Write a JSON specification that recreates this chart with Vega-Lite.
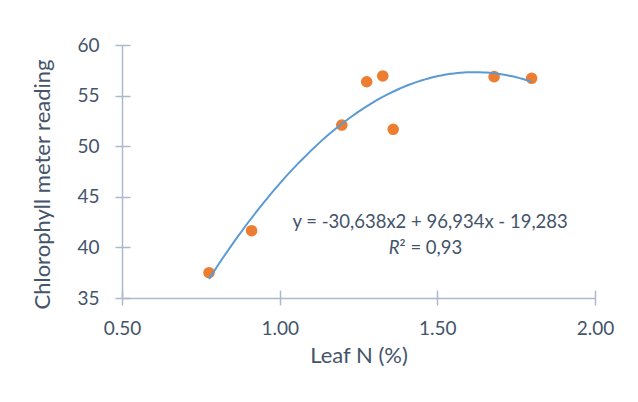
{
  "$schema": "https://vega.github.io/schema/vega-lite/v6.json",
  "width": 473,
  "height": 253,
  "autosize": {"type": "none"},
  "padding": {"left": 122, "top": 45, "right": 43, "bottom": 104},
  "background": "white",
  "config": {
    "view": {"stroke": null},
    "font": "Lato",
    "axis": {
      "grid": false,
      "labelFlush": false,
      "domainColor": "#ADB9CA",
      "tickColor": "#ADB9CA",
      "domainWidth": 1.5,
      "tickWidth": 1.5,
      "labelColor": "#44546A",
      "titleColor": "#44546A",
      "labelFont": "Lato",
      "titleFont": "Lato",
      "labelFontSize": 19,
      "titleFontSize": 22,
      "titleFontWeight": "normal"
    },
    "text": {"font": "Lato", "fontSize": 18.5, "color": "#44546A"}
  },
  "datasets": {
    "points": [
      {"leafN": 0.776, "chl": 37.5},
      {"leafN": 0.911, "chl": 41.65},
      {"leafN": 1.197, "chl": 52.09},
      {"leafN": 1.276, "chl": 56.37},
      {"leafN": 1.327, "chl": 56.94},
      {"leafN": 1.36, "chl": 51.67},
      {"leafN": 1.68, "chl": 56.87},
      {"leafN": 1.799, "chl": 56.71}
    ]
  },
  "layer": [
    {
      "data": {"name": "points"},
      "mark": {"type": "circle", "color": "#ED7D31", "size": 135, "opacity": 1},
      "encoding": {
        "x": {
          "field": "leafN", "type": "quantitative",
          "scale": {"domain": [0.5, 2], "nice": false, "zero": false},
          "axis": {"orient": "bottom", "values": [0.5, 1, 1.5, 2], "format": ".2f", "tickSize": 7, "labelPadding": 14, "titlePadding": 7, "title": "Leaf N (%)"}
        },
        "y": {
          "field": "chl", "type": "quantitative",
          "scale": {"domain": [35, 60], "nice": false, "zero": false},
          "axis": {"orient": "left", "values": [35, 40, 45, 50, 55, 60], "format": "d", "tickSize": 7, "labelPadding": 16, "titlePadding": 22, "titleY": 139, "title": "Chlorophyll meter reading"}
        }
      }
    },
    {
      "data": {"name": "points"},
      "transform": [{"regression": "chl", "on": "leafN", "method": "poly", "order": 2}],
      "mark": {"type": "line", "color": "#5B9BD5", "strokeWidth": 2},
      "encoding": {
        "x": {
          "field": "leafN", "type": "quantitative",
          "axis": {"orient": "bottom", "values": [0.5, 1, 1.5, 2], "tickSize": -8, "labels": false, "domain": false, "title": null}
        },
        "y": {
          "field": "chl", "type": "quantitative",
          "axis": {"orient": "left", "values": [35, 40, 45, 50, 55, 60], "tickSize": -8, "labels": false, "domain": false, "title": null}
        }
      }
    },
    {
      "data": {"values": [{"label": "y = -30,638x2 + 96,934x - 19,283"}]},
      "mark": {"type": "text", "align": "center", "baseline": "middle"},
      "encoding": {
        "text": {"field": "label"},
        "x": {"datum": 1.477, "type": "quantitative", "axis": null},
        "y": {"datum": 42.54, "type": "quantitative", "axis": null}
      }
    },
    {
      "data": {"values": [{"label": "R"}]},
      "mark": {"type": "text", "align": "right", "baseline": "middle", "fontStyle": "italic"},
      "encoding": {
        "text": {"field": "label"},
        "x": {"datum": 1.38, "type": "quantitative", "axis": null},
        "y": {"datum": 39.97, "type": "quantitative", "axis": null}
      }
    },
    {
      "data": {"values": [{"label": "² = 0,93"}]},
      "mark": {"type": "text", "align": "left", "baseline": "middle"},
      "encoding": {
        "text": {"field": "label"},
        "x": {"datum": 1.38, "type": "quantitative", "axis": null},
        "y": {"datum": 39.97, "type": "quantitative", "axis": null}
      }
    }
  ],
  "resolve": {"axis": {"x": "independent", "y": "independent"}}
}
